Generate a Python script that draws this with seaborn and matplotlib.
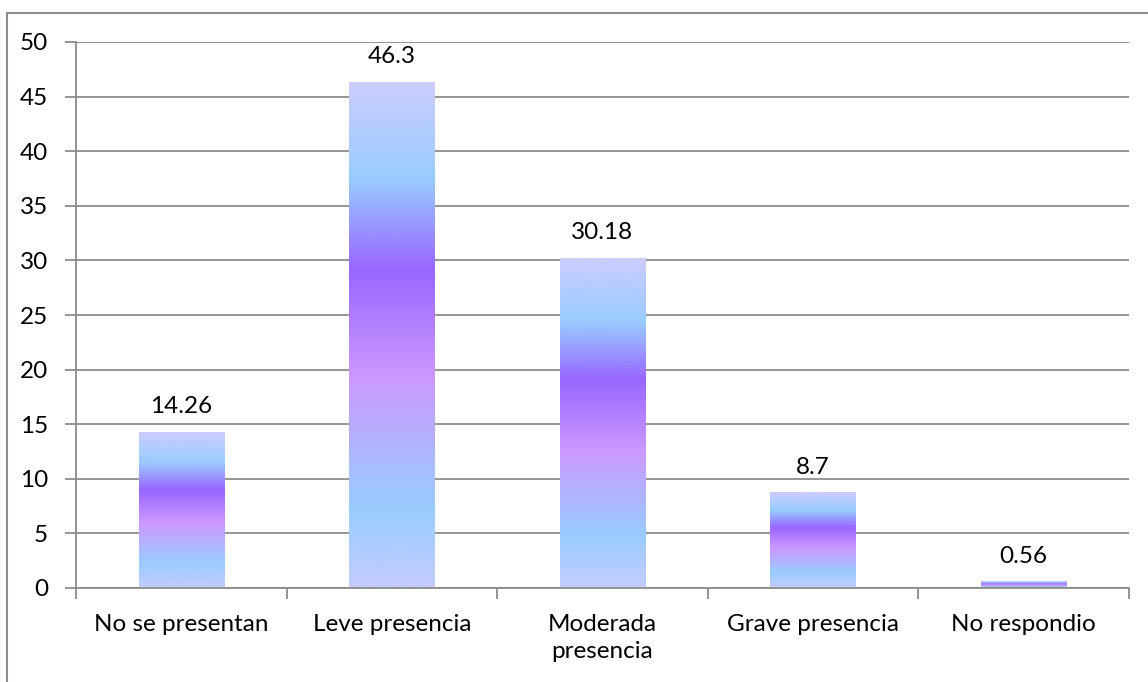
import numpy as np
import pandas as pd
import seaborn as sns
import matplotlib
matplotlib.use("Agg")
import matplotlib.pyplot as plt
from matplotlib.colors import LinearSegmentedColormap
from matplotlib.lines import Line2D

categories = ["No se presentan", "Leve presencia", "Moderada\npresencia",
              "Grave presencia", "No respondio"]
values = [14.26, 46.3, 30.18, 8.7, 0.56]
value_labels = ["14.26", "46.3", "30.18", "8.7", "0.56"]

sns.set_theme(style="white")
plt.rcParams['font.family'] = ['Lato', 'DejaVu Sans']
FS = 17.5

# gradient used inside every bar (top -> bottom)
grad = LinearSegmentedColormap.from_list("bar_grad", [
    (0.0, "#ccccff"), (0.19, "#99ccff"), (0.37, "#9966ff"),
    (0.585, "#cc99ff"), (0.84, "#99ccff"), (1.0, "#c4ccff")])

fig = plt.figure(figsize=(11.48, 6.82), dpi=100)
ax = fig.add_axes([76 / 1148, 1 - 588 / 682, (1129 - 76) / 1148, (588 - 42) / 682])

df = pd.DataFrame({"cat": categories, "val": values})
sns.barplot(data=df, x="cat", y="val", ax=ax, width=0.405, color="#ccccff")

ax.set_yticks(range(0, 51, 5))
ax.yaxis.grid(True, color="#8c8c8c", linewidth=1.3)
ax.set_axisbelow(True)

for p, lab in zip(ax.patches, value_labels):
    x0, y0 = p.get_x(), p.get_y()
    w, h = p.get_width(), p.get_height()
    p.set_facecolor("none")
    p.set_edgecolor("none")
    ax.imshow(np.linspace(0, 1, 256).reshape(-1, 1), cmap=grad, aspect="auto",
              extent=(x0, x0 + w, y0, y0 + h), zorder=2, interpolation="bicubic")
    ax.annotate(lab, (x0 + w / 2, y0 + h), xytext=(0, 13.7), textcoords="offset points",
                ha="center", va="baseline", fontsize=FS, color="black")

ax.set_xlim(-0.5, 4.5)
ax.set_ylim(0, 50)
ax.set_xlabel("")
ax.set_ylabel("")

for s in ["top", "right"]:
    ax.spines[s].set_visible(False)
for s in ["left", "bottom"]:
    ax.spines[s].set_color("#8c8c8c")
    ax.spines[s].set_linewidth(1.3)

ax.set_xticks(np.arange(-0.5, 5, 1), minor=True)
ax.tick_params(axis="x", which="major", length=0, pad=18.5, labelsize=FS, labelcolor="black")
ax.tick_params(axis="x", which="minor", length=8, width=1.3, color="#8c8c8c", direction="out", bottom=True)
ax.tick_params(axis="y", length=8, width=1.3, color="#8c8c8c", direction="out", left=True,
               labelsize=FS, labelcolor="black", pad=12)
for t in ax.get_xticklabels():
    t.set_linespacing(1.4)

# outer chart frame
fig.add_artist(Line2D([7 / 1148, 7 / 1148], [0, 1 - 13 / 682], transform=fig.transFigure,
                      color="#8c8c8c", linewidth=1.5))
fig.add_artist(Line2D([7 / 1148, 1], [1 - 13 / 682, 1 - 13 / 682], transform=fig.transFigure,
                      color="#8c8c8c", linewidth=1.5))

fig.savefig("out.png", dpi=100)
